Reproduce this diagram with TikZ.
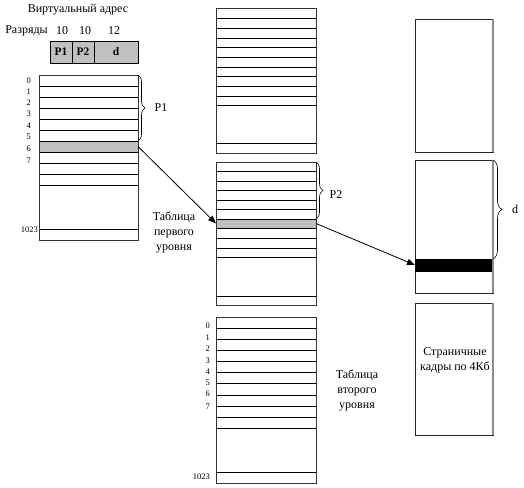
\documentclass[tikz,border=0pt]{standalone}
\usepackage{fontspec}
\setmainfont{Liberation Serif}
\usetikzlibrary{arrows.meta,decorations.pathreplacing}
\definecolor{silv}{HTML}{C0C0C0}
\begin{document}
\begin{tikzpicture}[x=1pt,y=-1pt,
  tbl/.style={draw=black!80, line width=0.8pt},
  rowline/.style={draw=black, line width=0.8pt},
  edge/.style={draw=gray!90, line width=1.3pt},
  hl/.style={draw=black, line width=0.8pt, fill=silv, inner sep=0pt, outer sep=0pt, anchor=north west, minimum width=#1},
  bar/.style={draw=black, fill=black, inner sep=0pt, outer sep=0pt, anchor=north west, minimum width=78pt, minimum height=12pt},
  frame/.style={draw=black!85, line width=0.8pt, inner sep=0pt, outer sep=0pt, anchor=north west, minimum width=78pt},
  field/.style={draw=black, line width=0.8pt, fill=silv, inner sep=0pt, outer sep=0pt, anchor=north west, minimum height=22pt, font=\fontsize{11.5}{12}\selectfont\bfseries},
  lbl/.style={inner sep=0pt, font=\fontsize{12}{15}\selectfont, align=center},
  num/.style={inner sep=0pt, anchor=east, font=\fontsize{8.5}{9}\selectfont},
  brc/.style={decorate, decoration={brace, amplitude=#1}, draw=black, line width=0.6pt},
  arr/.style={draw=black, line width=0.8pt, -{Triangle[length=8pt,width=6pt]}}
]
\useasboundingbox (0,0) rectangle (524,487);

% ---- header: virtual address ----
\node[lbl] (title) at (78,10) {Виртуальный адрес};
\node[lbl] (razr) at (26.5,31) {Разряды};
\node[lbl] (n1) at (62,31) {10};
\node[lbl] (n2) at (85,31) {10};
\node[lbl] (n3) at (114,31) {12};
\node[field, minimum width=22pt] (fp1) at (50,41) {P1};
\node[field, minimum width=22pt] (fp2) at (72,41) {P2};
\node[field, minimum width=44pt] (fd) at (94,41) {d};

% ---- left table (page directory) ----
\node[hl=99pt, minimum height=11pt] (g1) at (39,141) {};
\foreach \yy in {86,97,108,119,130,163,174,185,229}
  \draw[rowline] (39,\yy) -- (138,\yy);
\draw[tbl] (39,75) rectangle (138,240);
\foreach \i/\yy in {0/81,1/92,2/103,3/114,4/126,5/137,6/149,7/161}
  \node[num] (la\i) at (31,\yy) {\i};
\node[num] (la1023) at (38,230) {1023};
\draw[brc=7pt] (138,75) -- (138,141);
\node[lbl] (p1) at (161,108) {P1};
\node[lbl] (t1) at (174,232) {Таблица\\первого\\уровня};

% ---- middle top table ----
\foreach \yy in {18,28,38,47,57,67,76,86,96,105,143}
  \draw[rowline] (216,\yy) -- (316,\yy);
\draw[tbl] (216,8) rectangle (316,153);

% ---- middle table (second level) ----
\node[hl=100pt, minimum height=9pt] (g2) at (216,219) {};
\foreach \yy in {171,181,190,200,209,238,248,257,296}
  \draw[rowline] (216,\yy) -- (316,\yy);
\draw[tbl] (216,162) rectangle (316,305);
\draw[brc=7pt] (316,162) -- (316,219);
\node[lbl] (p2) at (336,195) {P2};

% ---- bottom middle table ----
\foreach \yy in {328,339,350,361,372,383,395,406,417,428,472}
  \draw[rowline] (216,\yy) -- (316,\yy);
\draw[tbl] (216,317) rectangle (316,483);
\foreach \i/\yy in {0/326,1/338,2/349,3/361,4/372,5/383,6/394,7/407}
  \node[num] (lb\i) at (210,\yy) {\i};
\node[num] (lb1023) at (210,477) {1023};
\node[lbl] (t2) at (357,390) {Таблица\\второго\\уровня};

% ---- right column: page frames ----
\node[frame, minimum height=133pt] (f1) at (415,19) {};
\node[frame, minimum height=133pt] (f2) at (415,160) {};
\node[frame, minimum height=132pt] (f3) at (415,303) {};
\node[bar] (bb) at (415,259) {};
\draw[edge] (f1.north east) -- (f1.south east);
\draw[edge] (f2.north east) -- (f2.south east);
\draw[edge] (f3.north east) -- (f3.south east);
\draw[brc=9pt] (493,160) -- (493,259);
\node[lbl] (dl) at (515,209) {d};
\node[lbl] (t3) at (455,360) {Страничные\\кадры по 4Кб};

% ---- arrows ----
\draw[arr] (g1.east) -- (g2.west);
\draw[arr] (g2.east) -- (bb.west);
\end{tikzpicture}
\end{document}
